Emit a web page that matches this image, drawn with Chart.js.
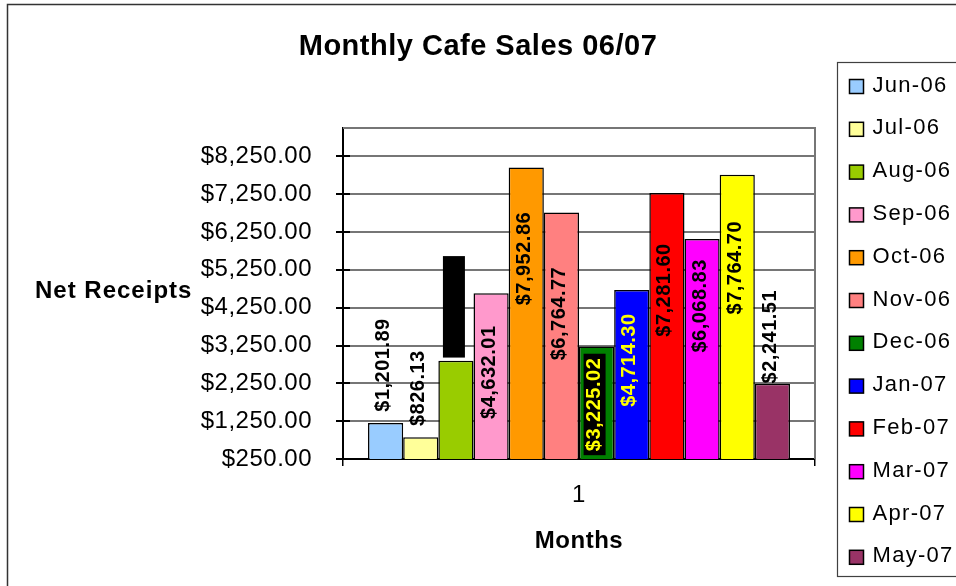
<!DOCTYPE html>
<html>
<head>
<meta charset="utf-8">
<script src="https://cdn.jsdelivr.net/npm/chart.js@4.4.1/dist/chart.umd.min.js"></script>
<style>
html,body{margin:0;padding:0;background:#fff;}
#wrap{width:956px;height:586px;position:relative;}
canvas{display:block;}
</style>
</head>
<body>
<div id="wrap"><canvas id="c" width="956" height="586"></canvas></div>
<script>
// ---------------- data ----------------
const categories = ['1'];
const months = ['Jun-06','Jul-06','Aug-06','Sep-06','Oct-06','Nov-06','Dec-06','Jan-07','Feb-07','Mar-07','Apr-07','May-07'];
const receipts = [1201.89, 826.13, 2845.00, 4632.01, 7952.86, 6764.77, 3225.02, 4714.30, 7281.60, 6068.83, 7764.70, 2241.51];
const yTickValues = [250, 1250, 2250, 3250, 4250, 5250, 6250, 7250, 8250];
const yMin = 250;
const yMax = 9000;
const chartTitle = 'Monthly Cafe Sales 06/07';
const yTitle = 'Net Receipts';
const xTitle = 'Months';

// ---------------- styles ----------------
const barColors = ['#99CCFF','#FFFF99','#99CC00','#FF99CC','#FF9900','#FF8080','#008000','#0000FF','#FF0000','#FF00FF','#FFFF00','#993366'];
const labelColors = ['#000','#000','#000','#000','#000','#000','#FFFF00','#FFFF00','#000','#000','#000','#000'];
const labelBacks = [null,null,'#000',null,null,null,'#000',null,null,null,null,null];
const labelShift = [-58, -49, -54, 79, 91, 101, 58, 70, 97, 67, 93, -47]; // px from bar top to label centre
const FONT = "'Liberation Sans', Arial, Helvetica, sans-serif";
const SPACING = '0.5px';

function money(v){
  return '$' + v.toLocaleString('en-US', {minimumFractionDigits: 2, maximumFractionDigits: 2});
}

Chart.defaults.font.family = FONT;
Chart.defaults.color = '#000';

function drawPlotFrame(chart){
  const ctx = chart.ctx, a = chart.chartArea, ys = chart.scales.y;
  ctx.save();
  ctx.fillStyle = '#767676';
  yTickValues.forEach(v => {
    if (v === yMin) return;
    const py = Math.round(ys.getPixelForValue(v));
    ctx.fillRect(a.left, py - 1, a.right - a.left, 2);
  });
  ctx.fillRect(a.left, a.top - 1, a.right - a.left + 1, 2);
  ctx.fillRect(a.right - 1, a.top - 1, 2, a.bottom - a.top + 1);
  ctx.fillStyle = '#000';
  yTickValues.forEach(v => {
    const py = Math.round(ys.getPixelForValue(v));
    ctx.fillRect(a.left, py - 1, 7, 2);
  });
  ctx.restore();
}

const basePlugin = {
  id: 'base',
  beforeUpdate(chart){ chart.ctx.letterSpacing = SPACING; },
  beforeDraw(chart){
    const ctx = chart.ctx;
    ctx.save();
    ctx.fillStyle = '#fff';
    ctx.fillRect(0, 0, chart.width, chart.height);
    ctx.restore();
    ctx.letterSpacing = SPACING;
  },
  beforeDatasetsDraw(chart){
    drawPlotFrame(chart);
  },
  afterDatasetsDraw(chart){
    const ctx = chart.ctx;
    ctx.save();
    ctx.font = 'bold 20px ' + FONT;
    ctx.letterSpacing = '0.5px';
    chart.data.datasets.forEach((ds, i) => {
      const bar = chart.getDatasetMeta(i).data[0];
      const text = money(ds.data[0]);
      ctx.save();
      ctx.translate(bar.x, bar.y + labelShift[i]);
      ctx.rotate(-Math.PI / 2);
      const w = ctx.measureText(text).width;
      if (labelBacks[i]) {
        ctx.fillStyle = labelBacks[i];
        ctx.fillRect(-w / 2 - 4, -13, w + 8, 22);
      }
      ctx.fillStyle = labelColors[i];
      ctx.textAlign = 'center';
      ctx.textBaseline = 'middle';
      ctx.fillText(text, 0, -2);
      ctx.restore();
    });
    ctx.restore();
  },
  afterDraw(chart){
    const ctx = chart.ctx, a = chart.chartArea;
    ctx.save();
    ctx.font = 'bold 24px ' + FONT;
    ctx.letterSpacing = '1px';
    ctx.fillStyle = '#000';
    ctx.textAlign = 'left';
    ctx.textBaseline = 'middle';
    ctx.fillText(yTitle, 35, (a.top + a.bottom) / 2 - 2);
    ctx.strokeStyle = '#333';
    ctx.lineWidth = 1.5;
    ctx.strokeRect(7.5, 4.5, 2000, 2000);
    ctx.restore();
  }
};

function drawLegend(chart, box){
  const ctx = chart.ctx;
  ctx.save();
  const L = box.left + 22.5, T = 62.5, B = 576.5;
  ctx.strokeStyle = '#404040';
  ctx.lineWidth = 1.2;
  ctx.strokeRect(L, T, box.right - L + 20, B - T);
  ctx.font = '22px ' + FONT;
  ctx.letterSpacing = '1.3px';
  ctx.textBaseline = 'middle';
  ctx.textAlign = 'left';
  const step = 42.8;
  chart.data.datasets.forEach((ds, i) => {
    const cy = T + 24 + i * step;
    ctx.fillStyle = ds.backgroundColor;
    ctx.fillRect(L + 12, cy - 7, 14, 14);
    ctx.strokeStyle = '#000';
    ctx.lineWidth = 1.5;
    ctx.strokeRect(L + 12, cy - 7, 14, 14);
    ctx.fillStyle = '#000';
    ctx.fillText(ds.label, L + 35, cy - 1);
  });
  ctx.restore();
}

const legendBoxPlugin = {
  id: 'legendBox',
  beforeInit(chart){
    const box = {
      position: 'right',
      weight: 100,
      fullSize: true,
      options: { stackWeight: 1 },
      isHorizontal(){ return false; },
      update(maxW, maxH){ this.width = 141; this.height = maxH; },
      draw(){ drawLegend(chart, this); }
    };
    Chart.layouts.addBox(chart, box);
  }
};

const datasets = months.map((m, i) => ({
  label: m,
  data: [receipts[i]],
  backgroundColor: barColors[i],
  borderColor: '#000',
  borderWidth: 1.5,
  borderSkipped: false,
  categoryPercentage: 0.894,
  barPercentage: 1.0
}));

new Chart(document.getElementById('c'), {
  type: 'bar',
  data: { labels: categories, datasets: datasets },
  plugins: [basePlugin, legendBoxPlugin],
  options: {
    responsive: false,
    animation: false,
    devicePixelRatio: 1,
    layout: { padding: 0 },
    plugins: {
      legend: { display: false },
      tooltip: { enabled: false },
      title: {
        display: true,
        text: chartTitle,
        color: '#000',
        font: { size: 29, weight: 'bold', family: FONT },
        padding: { top: 29.6, bottom: 63.6 }
      }
    },
    scales: {
      x: {
        type: 'category',
        offset: true,
        grid: { display: true, drawOnChartArea: false, drawTicks: true, tickLength: 7, tickColor: '#000', color: '#000', offset: true, lineWidth: 1.5 },
        border: { display: true, color: '#000', width: 2 },
        ticks: { color: '#000', font: { size: 24, family: FONT }, padding: 14.6 },
        title: { display: true, text: xTitle, color: '#000', font: { size: 24, weight: 'bold', family: FONT }, padding: { top: 0, bottom: 30.6 } },
        afterFit(scale){ scale.height = 127; }
      },
      y: {
        min: yMin,
        max: yMax,
        grid: {
          drawOnChartArea: false,
          drawTicks: true,
          tickLength: 7,
          tickColor: '#000',
          color: '#000',
          lineWidth: 2
        },
        border: { display: true, color: '#000', width: 2 },
        ticks: {
          color: '#000',
          font: { size: 24, family: FONT },
          padding: 24,
          callback: (v) => money(v)
        },
        afterBuildTicks(scale){ scale.ticks = yTickValues.map(v => ({ value: v })); },
        afterFit(scale){ scale.width = 343; }
      }
    }
  }
});
</script>
</body>
</html>
